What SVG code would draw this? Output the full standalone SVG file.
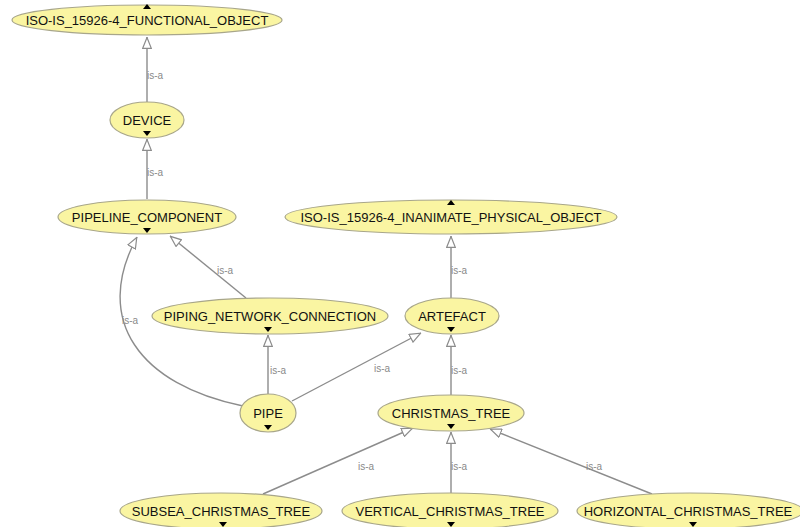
<svg xmlns="http://www.w3.org/2000/svg" width="800" height="527" viewBox="0 0 800 527">
<defs>
<style>
.n ellipse{fill:#faf5a2;stroke:#a8a68a;stroke-width:1.2}
.n text{font-family:"Liberation Sans",Arial,sans-serif;font-size:13px;fill:#111;text-anchor:middle}
.c path{fill:none;stroke:#8c8c8c;stroke-width:1.4}
.lbl{font-family:"Liberation Sans",Arial,sans-serif;font-size:10px;fill:#8a8a8a}
.tri{fill:#000}
</style>
<marker id="ah" viewBox="0 0 12 10" refX="12" refY="5" markerWidth="12" markerHeight="10" markerUnits="userSpaceOnUse" orient="auto">
<path d="M0.7,0.7 L11.5,5 L0.7,9.3 Z" fill="#fff" stroke="#8c8c8c" stroke-width="1.2"/>
</marker>
</defs>
<rect width="800" height="527" fill="#fff"/>
<g class="c">
<path d="M147,102 L147,37" marker-end="url(#ah)"/>
<path d="M147,199 L147,139" marker-end="url(#ah)"/>
<path d="M246,298 L170,236" marker-end="url(#ah)"/>
<path d="M243,406 C140,385 92,320 137,237" marker-end="url(#ah)"/>
<path d="M268,394 L268,335" marker-end="url(#ah)"/>
<path d="M292,401 L421,333" marker-end="url(#ah)"/>
<path d="M451,298 L451,236" marker-end="url(#ah)"/>
<path d="M451,395 L451,335" marker-end="url(#ah)"/>
<path d="M263,494 L413,428" marker-end="url(#ah)"/>
<path d="M451,493 L451,432" marker-end="url(#ah)"/>
<path d="M652,494 L490,429" marker-end="url(#ah)"/>
<text class="lbl" x="147" y="79">is-a</text>
<text class="lbl" x="147" y="176">is-a</text>
<text class="lbl" x="217" y="274">is-a</text>
<text class="lbl" x="122" y="324">is-a</text>
<text class="lbl" x="270" y="374">is-a</text>
<text class="lbl" x="374" y="372">is-a</text>
<text class="lbl" x="451" y="274">is-a</text>
<text class="lbl" x="451" y="374">is-a</text>
<text class="lbl" x="358" y="470">is-a</text>
<text class="lbl" x="451" y="470">is-a</text>
<text class="lbl" x="586" y="470">is-a</text>
</g>
<g id="functional_object" class="n">
<ellipse cx="147" cy="20" rx="135" ry="15"/>
<text x="147" y="25">ISO-IS_15926-4_FUNCTIONAL_OBJECT</text>
<path class="tri" d="M143,9 L151,9 L147,4 Z"/>
</g>
<g id="device" class="n">
<ellipse cx="147" cy="120" rx="37" ry="18"/>
<text x="147" y="125">DEVICE</text>
<path class="tri" d="M143,131 L151,131 L147,136 Z"/>
</g>
<g id="pipeline_component" class="n">
<ellipse cx="147" cy="217" rx="89" ry="17"/>
<text x="147" y="222">PIPELINE_COMPONENT</text>
<path class="tri" d="M143,228 L151,228 L147,233 Z"/>
</g>
<g id="inanimate_physical_object" class="n">
<ellipse cx="451" cy="217" rx="166" ry="17"/>
<text x="451" y="222">ISO-IS_15926-4_INANIMATE_PHYSICAL_OBJECT</text>
<path class="tri" d="M447,205 L455,205 L451,200 Z"/>
</g>
<g id="piping_network_connection" class="n">
<ellipse cx="270" cy="316" rx="118" ry="18"/>
<text x="270" y="321">PIPING_NETWORK_CONNECTION</text>
<path class="tri" d="M264,327 L272,327 L268,332 Z"/>
</g>
<g id="artefact" class="n">
<ellipse cx="452" cy="316" rx="47" ry="18"/>
<text x="452" y="321">ARTEFACT</text>
<path class="tri" d="M447,327 L455,327 L451,332 Z"/>
</g>
<g id="pipe" class="n">
<ellipse cx="268" cy="413" rx="28" ry="19"/>
<text x="268" y="418">PIPE</text>
<path class="tri" d="M264,425 L272,425 L268,430 Z"/>
</g>
<g id="christmas_tree" class="n">
<ellipse cx="451" cy="413" rx="73" ry="18"/>
<text x="451" y="418">CHRISTMAS_TREE</text>
<path class="tri" d="M447,424 L455,424 L451,429 Z"/>
</g>
<g id="subsea_christmas_tree" class="n">
<ellipse cx="221" cy="511" rx="101" ry="18"/>
<text x="221" y="516">SUBSEA_CHRISTMAS_TREE</text>
<path class="tri" d="M219,522 L227,522 L223,527 Z"/>
</g>
<g id="vertical_christmas_tree" class="n">
<ellipse cx="450" cy="511" rx="108" ry="18"/>
<text x="450" y="516">VERTICAL_CHRISTMAS_TREE</text>
<path class="tri" d="M447,522 L455,522 L451,527 Z"/>
</g>
<g id="horizontal_christmas_tree" class="n">
<ellipse cx="690" cy="511" rx="113" ry="18"/>
<text x="688" y="516">HORIZONTAL_CHRISTMAS_TREE</text>
<path class="tri" d="M689,522 L697,522 L693,527 Z"/>
</g>
</svg>
